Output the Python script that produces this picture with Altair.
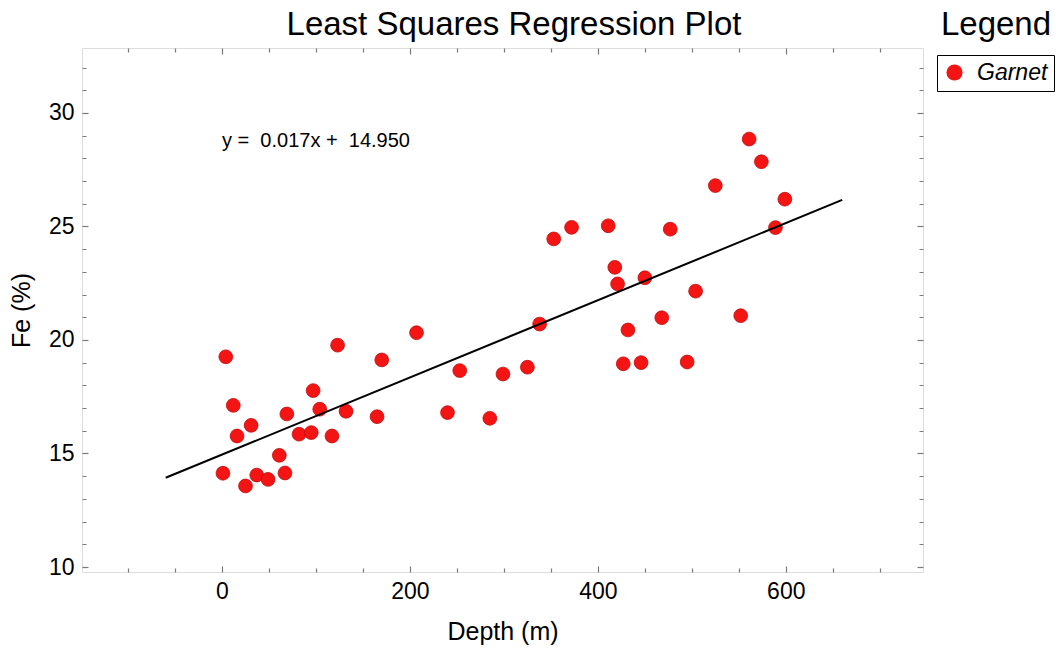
import altair as alt
import pandas as pd

# ---- data ----
depth = [4, 12, 16, 1, 25, 31, 37, 49, 61, 67, 69, 82, 95, 97, 104, 117, 123, 132,
         165, 170, 207, 240, 253, 285, 299, 325, 338, 353, 372, 411, 418, 421,
         432, 427, 446, 450, 468, 477, 495, 504, 525, 552, 561, 574, 589, 599]
fe = [19.26, 17.12, 15.77, 14.13, 13.57, 16.24, 14.05, 13.86, 14.92, 14.14, 16.74,
      15.85, 15.92, 17.77, 16.95, 15.77, 19.77, 16.86, 16.62, 19.12, 20.32, 16.8,
      18.65, 16.55, 18.5, 18.8, 20.7, 24.45, 24.96, 25.03, 23.2, 22.47, 20.44,
      18.95, 19.0, 22.74, 20.98, 24.88, 19.03, 22.15, 26.8, 21.07, 28.85, 27.85,
      24.95, 26.2]
mineral = ["Garnet"] * len(depth)

line_x = [-60, 660]
line_y = [13.93, 26.17]

eq_text = ["y =\u00a0 0.017x +\u00a0 14.950"]
eq_x = [0]
eq_y = [28.75]

titles = ["Least Squares Regression Plot", "Legend"]

x_ticks = list(range(-100, 701, 50))
y_ticks = list(range(10, 33))

x_domain = [-149, 746]
y_domain = [9.78, 32.86]

FONT = "Liberation Sans"
FRAME = "#7a7a7a"

pts = pd.DataFrame({"Depth": depth, "Fe": fe, "Mineral": mineral})
ln = pd.DataFrame({"Depth": line_x, "Fe": line_y})
eq = pd.DataFrame({"Depth": eq_x, "Fe": eq_y, "label": eq_text})

xscale = alt.Scale(domain=x_domain, nice=False, zero=False)
yscale = alt.Scale(domain=y_domain, nice=False, zero=False)


def ax(orient, values, major, labels, title=None, title_pad=None):
    kw = dict(
        orient=orient,
        values=values,
        offset=-6,
        tickSize=6,
        tickColor=FRAME,
        tickWidth=1.2,
        tickDash={"condition": {"test": f"datum.value % {major} !== 0", "value": [0, 2, 4, 0]},
                  "value": [6, 0]},
        domain=False,
        grid=False,
        labelFont=FONT,
        labelFontSize=23,
        labelColor="black",
        labelPadding=8,
        titleFont=FONT,
        titleFontSize=25,
        titleFontWeight="normal",
        titleColor="black",
    )
    if labels:
        kw["labelExpr"] = f"datum.value % {major} === 0 ? datum.label : ''"
        kw["labelOverlap"] = False
        kw["labelFlush"] = False
    else:
        kw["labels"] = False
    kw["title"] = title
    if title_pad is not None:
        kw["titlePadding"] = title_pad
    return alt.Axis(**kw)


points = alt.Chart(pts).mark_point(
    filled=True, size=190, opacity=1, stroke="#c00d0d", strokeWidth=0.8
).encode(
    x=alt.X("Depth:Q", scale=xscale,
            axis=ax("bottom", x_ticks, 200, True, "Depth (m)", 16)),
    y=alt.Y("Fe:Q", scale=yscale,
            axis=ax("left", y_ticks, 5, True, "Fe (%)", 14)),
    color=alt.Color(
        "Mineral:N",
        scale=alt.Scale(domain=["Garnet"], range=["#f41414"]),
        legend=alt.Legend(
            title=None,
            orient="none",
            legendX=855,
            legendY=7,
            strokeColor="black",
            fillColor="white",
            padding=6,
            symbolType="circle",
            symbolSize=260,
            symbolStrokeWidth=0,
            labelFont=FONT,
            labelFontSize=23,
            labelFontStyle="italic",
            labelColor="black",
            labelOffset=11,
        ),
    ),
)

reg_line = alt.Chart(ln).mark_line(color="black", strokeWidth=2).encode(
    x=alt.X("Depth:Q", scale=xscale, axis=ax("top", x_ticks, 200, False)),
    y=alt.Y("Fe:Q", scale=yscale, axis=ax("right", y_ticks, 5, False)),
)

eq_layer = alt.Chart(eq).mark_text(
    align="left", baseline="middle", font=FONT, fontSize=20, color="black"
).encode(
    x=alt.X("Depth:Q", scale=xscale, axis=None),
    y=alt.Y("Fe:Q", scale=yscale, axis=None),
    text="label:N",
)

main_title = alt.Chart(pd.DataFrame({"t": [titles[0]]})).mark_text(
    align="center", baseline="alphabetic", font=FONT, fontSize=33, color="black"
).encode(
    x=alt.value(432),
    y=alt.value(-13),
    text="t:N",
)

legend_title = alt.Chart(pd.DataFrame({"t": [titles[1]]})).mark_text(
    align="center", baseline="alphabetic", font=FONT, fontSize=33, color="black"
).encode(
    x=alt.value(914),
    y=alt.value(-13),
    text="t:N",
)

chart = alt.layer(points, reg_line, eq_layer, main_title, legend_title).properties(
    width=841,
    height=524,
    padding={"left": 82, "top": 48, "right": 133, "bottom": 79},
    autosize=alt.AutoSizeParams(type="none"),
).configure_view(
    stroke=FRAME, strokeWidth=1.5
).configure(background="white")

chart.save("out.html", embed_options={"renderer": "svg", "actions": False})
